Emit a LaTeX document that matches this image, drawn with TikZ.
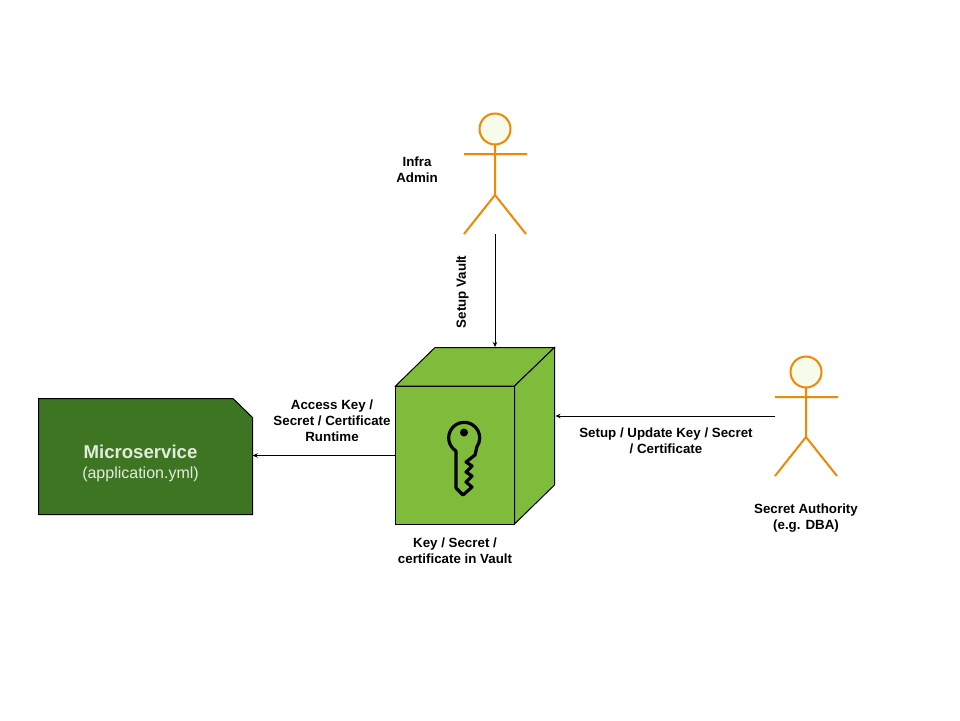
\documentclass[tikz,border=0pt]{standalone}
\usepackage{fontspec}
\setmainfont{Liberation Sans}
\usetikzlibrary{arrows.meta}
\definecolor{cubegreen}{HTML}{7FBC3C}
\definecolor{msgreen}{HTML}{3D7522}
\definecolor{actororange}{HTML}{F08705}
\definecolor{headfill}{HTML}{F7FBE9}
\definecolor{mssub}{HTML}{E3EBDD}
\tikzset{
  conn/.style={draw=black,line width=0.9pt,-{Stealth[length=5pt,width=4.5pt]}},
  lab/.style={font=\fontsize{13.33}{16}\selectfont\bfseries,align=center,text=black,inner sep=0pt},
  limb/.style={draw=actororange,line width=2pt},
  head/.style={circle,draw=actororange,fill=headfill,line width=2pt,minimum size=31pt,inner sep=0pt},
  cubeface/.style={draw=black,fill=cubegreen,line width=1pt,line join=miter},
  keyline/.style={draw=black,line width=3.2pt,line join=round},
}
\begin{document}
\begin{tikzpicture}[x=1pt,y=-1pt]
\useasboundingbox (0,0) rectangle (960,720);
\fill[white] (0,0) rectangle (960,720);
% microservice
\filldraw[fill=msgreen,draw=black,line width=1pt] (38.5,398.5) -- (233,398.5) -- (252.5,417.5) -- (252.5,514.5) -- (38.5,514.5) -- cycle;
\node[minimum width=214pt,minimum height=116pt,inner sep=0pt] (micro) at (145.5,455.5) {};
\node[font=\fontsize{18.6}{20}\selectfont\bfseries,text=mssub,inner sep=0pt] (mstitle) at (140.5,452) {Microservice};
\node[font=\fontsize{16}{18}\selectfont,text=mssub,inner sep=0pt] (mssubtitle) at (140.5,474) {(application.yml)};
% cube
\path[cubeface] (395.5,386) -- (435,347.5) -- (554.5,347.5) -- (514.5,386) -- cycle;
\path[cubeface] (514.5,386) -- (554.5,347.5) -- (554.5,485) -- (514.5,524) -- cycle;
\node[cubeface,minimum width=119.5pt,minimum height=138pt,inner sep=0pt] (front) at (455,455.5) {};
\coordinate (cubetop) at (495,347);
\coordinate (cuberight) at (555.5,416);
% key
\draw[keyline] (456,451) arc[start angle=122,end angle=395,radius=15.5] -- (475,455) -- (466,462) -- (472,466) -- (466,472) -- (472,476) -- (466,482) -- (472,487) -- (463,495) -- (456,488) -- cycle;
\fill[black] (464,432.5) circle[radius=4];
% actor 1
\draw[limb] (495,145) -- (495,195) (464,154) -- (527,154) (464,234) -- (495,195) -- (526,234);
\node[head] (infrahead) at (495,129) {};
\coordinate (infrafeet) at (495,234);
% actor 2
\draw[limb] (806,388) -- (806,437) (775,397) -- (838,397) (775,476) -- (806,437) -- (837,476);
\node[head] (dbahead) at (806,372) {};
\coordinate (dbaarm) at (775,416);
% connectors
\draw[conn] (infrafeet) -- (cubetop);
\draw[conn] (front.west) -- (micro.east);
\draw[conn] (dbaarm) -- (cuberight);
% labels
\node[lab] (infralab) at (417,170) {Infra\\Admin};
\node[lab,rotate=90] (vaultlab) at (462.5,292) {Setup Vault};
\node[lab] (accesslab) at (332,421) {Access Key /\\Secret / Certificate\\Runtime};
\node[lab] (keylab) at (455,551) {Key / Secret /\\certificate in Vault};
\node[lab] (setuplab) at (666,441) {Setup / Update Key / Secret\\/ Certificate};
\node[lab] (dbalab) at (806,518) {Secret Authority\\(e.g. DBA)};
\end{tikzpicture}
\end{document}
